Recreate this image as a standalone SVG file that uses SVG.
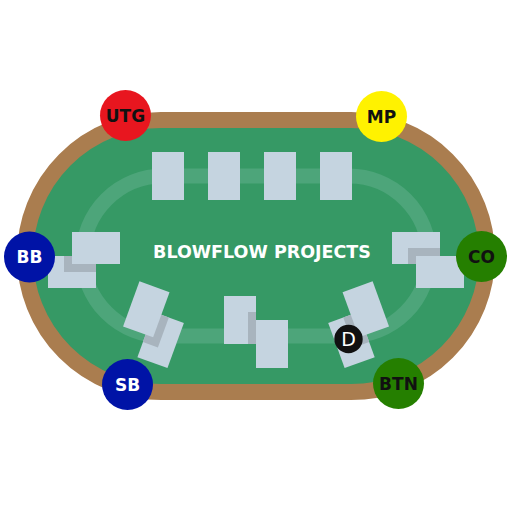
<svg xmlns="http://www.w3.org/2000/svg" width="512" height="512" viewBox="0 0 512 512">
<style>
.card{fill:#C5D4E0}
.shade{fill:#A8B4BE}
.lbl{font-family:"DejaVu Sans",sans-serif;font-weight:bold;font-size:17px;text-anchor:middle}
.dark{fill:#111111}
.light{fill:#FFFFFF}
</style>
<rect width="512" height="512" fill="#FFFFFF"/>
<g id="table">
<rect x="25" y="120" width="462" height="272" rx="136" ry="136" fill="#369965" stroke="#AA7D4F" stroke-width="16"/>
<rect x="83" y="176" width="346" height="160" rx="80" ry="80" fill="none" stroke="#4DA57A" stroke-width="15"/>
<text x="262" y="258" font-family="DejaVu Sans, sans-serif" font-weight="bold" font-size="17.5" fill="#FFFFFF" text-anchor="middle">BLOWFLOW PROJECTS</text>
</g>
<g id="board">
<rect class="card" x="152" y="152" width="32" height="48"/>
<rect class="card" x="208" y="152" width="32" height="48"/>
<rect class="card" x="264" y="152" width="32" height="48"/>
<rect class="card" x="320" y="152" width="32" height="48"/>
</g>
<g id="cards-bb">
<rect class="card" x="48" y="256" width="48" height="32"/>
<rect class="shade" x="64" y="256" width="32" height="16"/>
<rect class="card" x="72" y="232" width="48" height="32"/>
</g>
<g id="cards-co">
<rect class="card" x="392" y="232" width="48" height="32"/>
<rect class="shade" x="408" y="248" width="32" height="16"/>
<rect class="card" x="416" y="256" width="48" height="32"/>
</g>
<g id="cards-bottom">
<rect class="card" x="224" y="296" width="32" height="48"/>
<rect class="shade" x="248" y="312" width="8" height="32"/>
<rect class="card" x="256" y="320" width="32" height="48"/>
</g>
<g id="cards-sb" transform="translate(146.3 309.3) rotate(20)">
<rect class="card" x="8" y="0" width="32" height="48"/>
<rect class="shade" x="8" y="0" width="16" height="32"/>
<rect class="card" x="-16" y="-24" width="32" height="48"/>
</g>
<g id="cards-btn" transform="translate(365.8 309.3) rotate(-20)">
<rect class="card" x="-40" y="0" width="32" height="48"/>
<rect class="shade" x="-24" y="0" width="16" height="32"/>
<rect class="card" x="-16" y="-24" width="32" height="48"/>
</g>
<g id="dealer">
<circle cx="348.5" cy="339" r="14.2" fill="#111111"/>
<text x="348.5" y="345.8" font-family="DejaVu Sans, sans-serif" font-size="19" fill="#FFFFFF" text-anchor="middle">D</text>
</g>
<g id="utg">
<circle cx="125.5" cy="115.5" r="25.5" fill="#E8161F"/>
<text class="lbl dark" x="125.5" y="121.7">UTG</text>
</g>
<g id="mp">
<circle cx="381.5" cy="116.5" r="25.5" fill="#FFF200"/>
<text class="lbl dark" x="381.5" y="122.7">MP</text>
</g>
<g id="bb">
<circle cx="29.5" cy="257" r="25.5" fill="#0013A6"/>
<text class="lbl light" x="29.5" y="263.2">BB</text>
</g>
<g id="co">
<circle cx="481.5" cy="256.5" r="25.5" fill="#257F00"/>
<text class="lbl dark" x="481.5" y="262.7">CO</text>
</g>
<g id="sb">
<circle cx="127.5" cy="384.5" r="25.5" fill="#0013A6"/>
<text class="lbl light" x="127.5" y="390.7">SB</text>
</g>
<g id="btn">
<circle cx="398.5" cy="383.5" r="25.5" fill="#257F00"/>
<text class="lbl dark" x="398.5" y="389.7">BTN</text>
</g>
</svg>
